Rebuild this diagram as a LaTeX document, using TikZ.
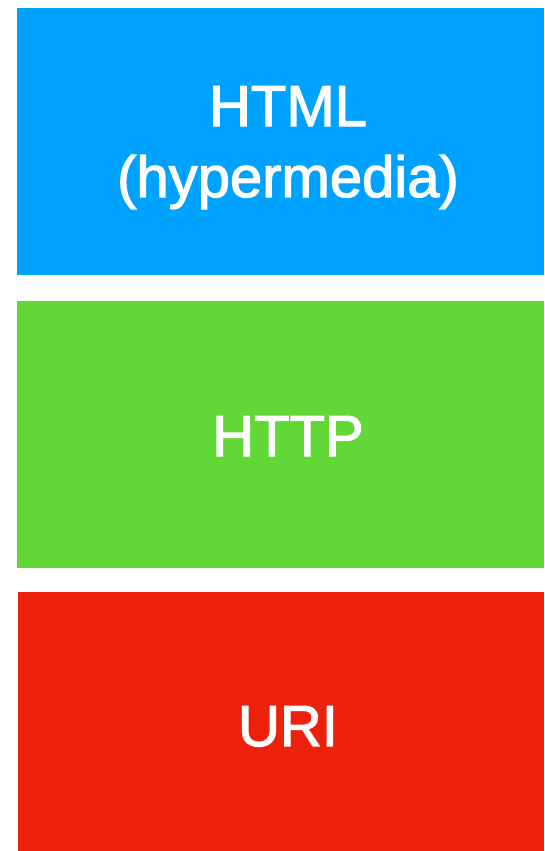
\documentclass[tikz,border=0pt]{standalone}
\usepackage{fontspec}
\setmainfont{Liberation Sans}
\newfontfamily\medfont[FakeBold=2]{Liberation Sans}
\definecolor{kblue}{HTML}{00A2FF}
\definecolor{kgreen}{HTML}{61D836}
\definecolor{kred}{HTML}{EE220C}
\begin{document}
\begin{tikzpicture}[x=1pt,y=-1pt,
  layer/.style={inner sep=0pt, outer sep=0pt},
  lbl/.style={text=white, inner sep=0pt, align=center, font=\medfont\fontsize{58}{71}\selectfont}]
\useasboundingbox (0,0) rectangle (544,851);
\fill[white] (0,0) rectangle (544,851);
\path[fill=kblue] (17,8) rectangle (544,275);
\node[layer] (blue) at (280.5,141.5) {};
\path[fill=kgreen] (17,301) rectangle (544,568);
\node[layer] (green) at (280.5,434.5) {};
\path[fill=kred] (18,592) rectangle (544,851);
\node[layer] (red) at (281,721.5) {};
\node[lbl, anchor=base] (html) at (288,197) {HTML\\(hypermedia)};
\node[lbl, anchor=base] (http) at (288,456) {HTTP};
\node[lbl, anchor=base] (uri) at (288,746) {URI};
\end{tikzpicture}
\end{document}
